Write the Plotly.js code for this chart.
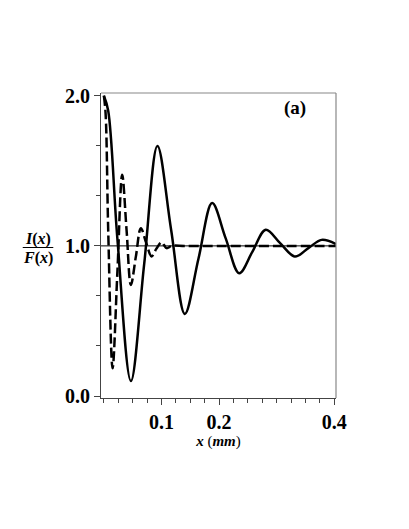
<!DOCTYPE html>
<html>
<head>
<meta charset="utf-8">
<script src="https://cdn.plot.ly/plotly-3.0.1.min.js"></script>
<style>
  html, body { margin: 0; padding: 0; background: #fff; }
  #chart { width: 409px; height: 529px; }
</style>
</head>
<body>
<div id="chart"></div>
<script>
// solid curve: peaks, troughs and the crossings in between
var xSolid = [0, 0.0075, 0.0234, 0.0469, 0.070, 0.093, 0.1168, 0.1406, 0.1643, 0.188,
              0.2115, 0.235, 0.258, 0.281, 0.306, 0.3316, 0.355, 0.378, 0.403];
var ySolid = [2.0, 1.90, 1.05, 0.10, 0.88, 1.665, 1.106, 0.547, 0.916, 1.285,
              1.05, 0.818, 0.962, 1.107, 1.018, 0.929, 0.985, 1.04, 1.012];

// dashed curve
var xDash = [0, 0.003, 0.0076, 0.0151, 0.0235, 0.0318, 0.0394, 0.0469, 0.0556, 0.0642,
             0.0735, 0.0828, 0.091, 0.100, 0.1045, 0.109, 0.118, 0.14, 0.2, 0.3, 0.403];
var yDash = [2.0, 1.88, 1.09, 0.185, 0.83, 1.473, 1.105, 0.74, 0.93, 1.118,
             1.02, 0.93, 0.98, 1.025, 1.005, 0.985, 1.0, 1.0, 1.0, 1.0, 1.0];

var xTicks = [0.1, 0.2, 0.4];
var xTickText = ['0.1', '0.2', '0.4'];
var yTicks = [0, 1, 2];
var yTickText = ['0.0', '1.0', '2.0'];
var refLevel = 1.0;

var serif = 'Liberation Serif, Times New Roman, serif';

var traces = [
  {
    type: 'scatter', mode: 'lines', x: xDash, y: yDash,
    line: { color: '#000', width: 2.5, dash: '10px,4px', shape: 'spline', smoothing: 1 },
    hoverinfo: 'skip'
  },
  {
    type: 'scatter', mode: 'lines', x: xSolid, y: ySolid,
    line: { color: '#000', width: 2.5, shape: 'spline', smoothing: 1 },
    hoverinfo: 'skip'
  }
];

var layout = {
  width: 409, height: 529,
  margin: { l: 101, r: 73, t: 93, b: 131 },
  paper_bgcolor: '#fff', plot_bgcolor: '#fff',
  showlegend: false,
  xaxis: {
    range: [-0.005, 0.403],
    showgrid: false, zeroline: false,
    showline: true, linecolor: '#444', linewidth: 1, mirror: false,
    ticks: 'outside', ticklen: 6, tickcolor: '#444', tickwidth: 1,
    tickvals: xTicks, ticktext: xTickText,
    tickfont: { family: serif, size: 20, color: '#000', weight: 'bold' },
    minor: { tick0: 0, dtick: 0.025, ticks: 'outside', ticklen: 4, tickcolor: '#444' },
    title: {
      text: '<b><i>x</i></b> (<b><i>mm</i></b>)',
      font: { family: serif, size: 15, color: '#000' },
      standoff: 0
    }
  },
  yaxis: {
    range: [-0.013, 2.018],
    showgrid: false, zeroline: false,
    showline: true, linecolor: '#444', linewidth: 1, mirror: false,
    ticks: 'outside', ticklen: 6, tickcolor: '#444', tickwidth: 1,
    tickvals: yTicks, ticktext: yTickText,
    tickfont: { family: serif, size: 20, color: '#000', weight: 'bold' },
    minor: { tick0: 0, dtick: 1 / 3, ticks: 'outside', ticklen: 4, tickcolor: '#444' }
  },
  shapes: [
    // reference level
    { type: 'line', xref: 'paper', yref: 'y', x0: 0, x1: 1, y0: refLevel, y1: refLevel,
      line: { color: '#000', width: 1 } },
    // light frame on top and right
    { type: 'line', xref: 'paper', yref: 'paper', x0: 0, x1: 1, y0: 1, y1: 1,
      line: { color: '#888', width: 1.2 } },
    { type: 'line', xref: 'paper', yref: 'paper', x0: 1, x1: 1, y0: 0, y1: 1,
      line: { color: '#888', width: 1.2 } },
    // fraction bar of the y label
    { type: 'line', xref: 'paper', yref: 'paper', x0: -0.333, x1: -0.203, y0: 0.4934, y1: 0.4934,
      line: { color: '#000', width: 1 } }
  ],
  annotations: [
    { text: '<b>(a)</b>', xref: 'paper', yref: 'paper', x: 0.826, y: 0.951,
      xanchor: 'center', yanchor: 'middle', showarrow: false,
      font: { family: serif, size: 19, color: '#000' } },
    { text: '<b><i>I</i>(<i>x</i>)</b>', xref: 'paper', yref: 'paper', x: -0.268, y: 0.52,
      xanchor: 'center', yanchor: 'middle', showarrow: false,
      font: { family: serif, size: 16, color: '#000' } },
    { text: '<b><i>F</i>(<i>x</i>)</b>', xref: 'paper', yref: 'paper', x: -0.268, y: 0.458,
      xanchor: 'center', yanchor: 'middle', showarrow: false,
      font: { family: serif, size: 16, color: '#000' } }
  ]
};

Plotly.newPlot('chart', traces, layout, { displayModeBar: false, staticPlot: true });
</script>
</body>
</html>
